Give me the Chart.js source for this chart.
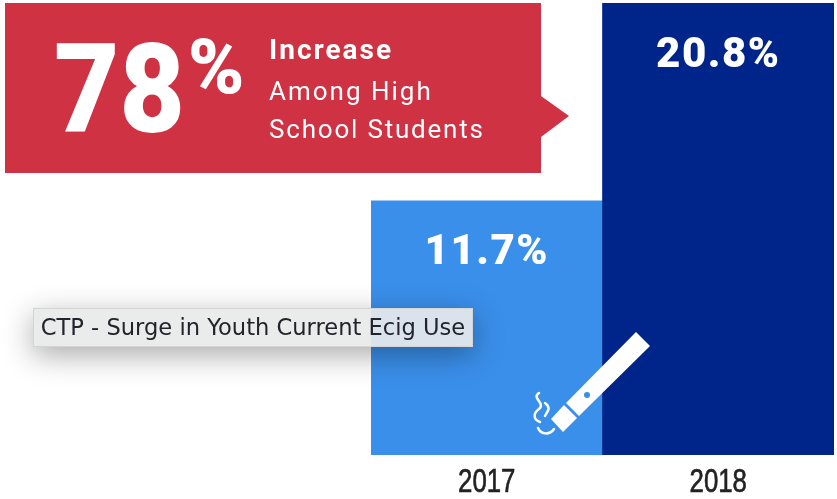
<!DOCTYPE html>
<html>
<head>
<meta charset="utf-8">
<title>CTP - Surge in Youth Current Ecig Use</title>
<script src="https://cdn.jsdelivr.net/npm/chart.js@4"></script>
<style>
    html, body { margin: 0; padding: 0; background: #fff; overflow: hidden; }
    #wrap { position: relative; width: 837px; height: 499px; }
    #tip {
        position: absolute; left: 33px; top: 308px; width: 440px; height: 39px; box-sizing: border-box;
        background: rgba(232,234,234,0.92); border: 1px solid #d4d4d4;
        box-shadow: 0 8px 30px rgba(0,0,0,0.34);
        font: 22.6px/36px "DejaVu Sans", sans-serif; color: #23232b; text-align: center; white-space: nowrap;
    }
</style>
</head>
<body>
<div id="wrap">
    <canvas id="chart" width="837" height="499"></canvas>
    <div id="tip">CTP - Surge in Youth Current Ecig Use</div>
</div>
<script>
const years = ['2017', '2018'];
const prevalence = [11.7, 20.8];
const barColors = ['#3a8fea', '#00258a'];
const headline = '78';
const calloutLines = ['Increase', 'Among High', 'School Students'];

// Percent labels inside the top of each bar
const valueLabels = {
    id: 'valueLabels',
    afterDatasetsDraw(chart) {
        const { ctx } = chart;
        ctx.save();
        ctx.fillStyle = '#fff';
        ctx.font = '900 42px Roboto';
        ctx.letterSpacing = '1.5px';
        ctx.textAlign = 'center';
        ctx.textBaseline = 'middle';
        chart.getDatasetMeta(0).data.forEach((bar, i) => {
            ctx.fillText(prevalence[i] + '%', bar.x, bar.y + 53);
        });
        ctx.restore();
    }
};

// Year labels under the bars, squeezed to a condensed width
const yearLabels = {
    id: 'yearLabels',
    afterDatasetsDraw(chart) {
        const { ctx } = chart;
        const xScale = chart.scales.x;
        ctx.save();
        ctx.fillStyle = '#222';
        ctx.strokeStyle = '#222';
        ctx.lineWidth = 0.6;
        ctx.font = '400 30px "Liberation Sans"';
        ctx.textAlign = 'center';
        ctx.textBaseline = 'alphabetic';
        years.forEach((year, i) => {
            ctx.save();
            ctx.translate(xScale.getPixelForTick(i), 492);
            ctx.scale(0.86, 1.12);
            ctx.fillText(year, 0, 0);
            ctx.strokeText(year, 0, 0);
            ctx.restore();
        });
        ctx.restore();
    }
};

// Red banner with the arrow pointing at the 2018 bar
const callout = {
    id: 'callout',
    afterDatasetsDraw(chart) {
        const { ctx } = chart;
        ctx.save();
        ctx.fillStyle = '#cf3242';
        ctx.beginPath();
        ctx.moveTo(5, 3);
        ctx.lineTo(541, 3);
        ctx.lineTo(541, 96);
        ctx.lineTo(569, 116);
        ctx.lineTo(541, 137);
        ctx.lineTo(541, 173);
        ctx.lineTo(5, 173);
        ctx.closePath();
        ctx.fill();

        ctx.fillStyle = '#fff';
        ctx.textBaseline = 'alphabetic';
        ctx.textAlign = 'left';
        ctx.save();
        ctx.translate(54, 132);
        ctx.scale(0.91, 1);
        ctx.font = '900 124px Roboto';
        ctx.fillText(headline, 0, 0);
        ctx.restore();
        ctx.font = '900 76px Roboto';
        ctx.fillText('%', 188, 93);

        ctx.letterSpacing = '2px';
        ctx.font = '700 28px Roboto';
        ctx.fillText(calloutLines[0], 269, 59);
        ctx.font = '400 26px Roboto';
        ctx.fillText(calloutLines[1], 269, 100);
        ctx.letterSpacing = '1.8px';
        ctx.fillText(calloutLines[2], 269, 138);
        ctx.restore();
    }
};

// E-cigarette icon across the bottom of the two bars
const ecigIcon = {
    id: 'ecigIcon',
    afterDatasetsDraw(chart) {
        const { ctx } = chart;
        ctx.save();
        ctx.fillStyle = '#fff';
        ctx.beginPath();
        ctx.moveTo(636, 332);
        ctx.lineTo(650, 346);
        ctx.lineTo(579, 416);
        ctx.lineTo(566, 403);
        ctx.closePath();
        ctx.fill();

        ctx.beginPath();
        ctx.moveTo(564, 405);
        ctx.lineTo(577, 418);
        ctx.lineTo(563, 432);
        ctx.lineTo(551, 419);
        ctx.closePath();
        ctx.fill();

        ctx.fillStyle = '#3a8fea';
        ctx.beginPath();
        ctx.arc(587, 395, 3, 0, Math.PI * 2);
        ctx.fill();

        // smoke wisps
        ctx.strokeStyle = '#fff';
        ctx.lineWidth = 2.5;
        ctx.lineCap = 'round';
        ctx.beginPath();
        ctx.moveTo(539, 393);
        ctx.bezierCurveTo(531, 398, 546, 403, 539, 409);
        ctx.bezierCurveTo(532, 414, 534, 420, 540, 422);
        ctx.stroke();
        ctx.beginPath();
        ctx.moveTo(545, 403);
        ctx.bezierCurveTo(552, 408, 547, 412, 545, 416);
        ctx.stroke();
        ctx.beginPath();
        ctx.moveTo(538, 428);
        ctx.bezierCurveTo(541, 435, 550, 435, 554, 429);
        ctx.stroke();
        ctx.restore();
    }
};

new Chart(document.getElementById('chart'), {
    type: 'bar',
    data: {
        labels: years,
        datasets: [{
            data: prevalence,
            backgroundColor: barColors,
            borderWidth: 0,
            barPercentage: 1,
            categoryPercentage: 1
        }]
    },
    options: {
        responsive: false,
        animation: false,
        layout: { padding: { left: 371, right: 3, top: 3, bottom: 0 } },
        plugins: { legend: { display: false }, tooltip: { enabled: false } },
        scales: {
            x: {
                grid: { display: false, drawTicks: false },
                border: { display: false },
                afterFit(axis) { axis.height = 44; },
                ticks: { display: false }
            },
            y: { display: false, min: 0, max: 20.8 }
        }
    },
    plugins: [valueLabels, yearLabels, callout, ecigIcon]
});
</script>
</body>
</html>
